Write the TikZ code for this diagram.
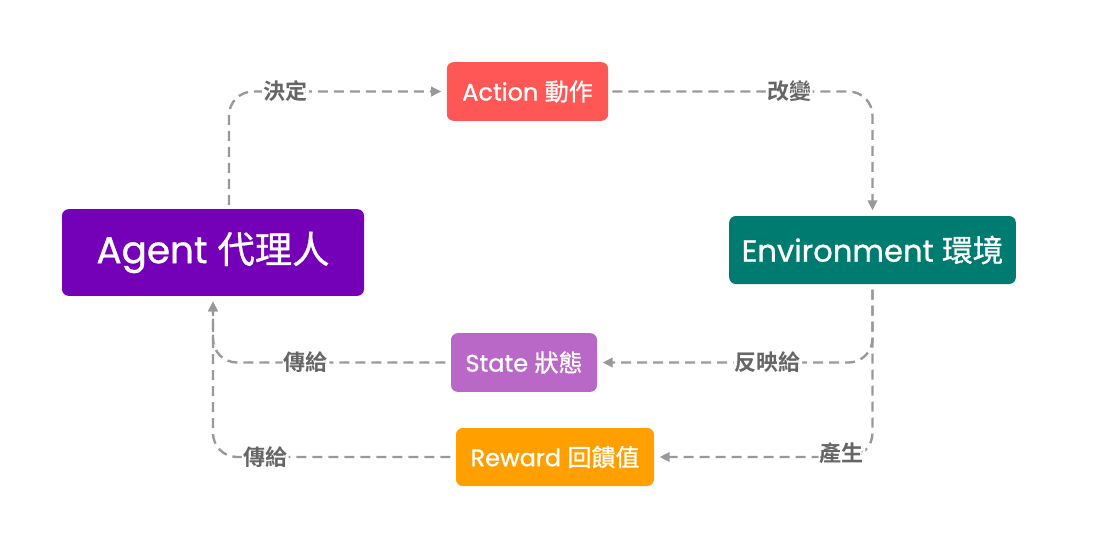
\documentclass[tikz,border=0pt]{standalone}
\usepackage{fontspec}
\setmainfont{Poppins}[RawFeature={embolden=0.9}]
\newfontfamily\cjk{Noto Sans CJK TC}[RawFeature={embolden=0.9}]
\newfontfamily\cjkb{Noto Sans CJK TC Bold}
\usetikzlibrary{arrows.meta}
\definecolor{actcol}{HTML}{FF5656}
\definecolor{agtcol}{HTML}{7400B8}
\definecolor{envcol}{HTML}{007B70}
\definecolor{stacol}{HTML}{BA68C8}
\definecolor{rewcol}{HTML}{FFA000}
\definecolor{linecol}{HTML}{999999}
\definecolor{lblcol}{HTML}{666666}
\begin{document}
\begin{tikzpicture}[x=0.75pt,y=-0.75pt,
  box/.style={rounded corners=5pt,text=white,inner sep=0pt,align=center},
  flow/.style={draw=linecol,line width=1.8pt,dash pattern=on 7.5pt off 4.5pt,
    rounded corners=18pt,-{Triangle[length=7.5pt,width=7pt]},shorten >=4pt},
  lbl/.style={fill=white,text=lblcol,inner sep=1pt,font=\cjkb\fontsize{16.5}{18}\selectfont}]
\useasboundingbox (0,0) rectangle (1097,547);

\node[box,fill=agtcol,minimum width=226.5pt,minimum height=65pt,
  font=\fontsize{28}{30}\selectfont] (agent) at (213,252.5) {Agent {\cjk 代理人}};
\node[box,fill=actcol,minimum width=121pt,minimum height=44pt,
  font=\fontsize{18}{20}\selectfont] (action) at (527.5,91.5) {Action {\cjk 動作}};
\node[box,fill=envcol,minimum width=215pt,minimum height=51pt,
  font=\fontsize{23}{25}\selectfont] (env) at (872.5,250) {Environment {\cjk 環境}};
\node[box,fill=stacol,minimum width=109.5pt,minimum height=44pt,
  font=\fontsize{18}{20}\selectfont] (state) at (524,362.5) {State {\cjk 狀態}};
\node[box,fill=rewcol,minimum width=148.5pt,minimum height=43.5pt,
  font=\fontsize{18}{20}\selectfont] (reward) at (555,457) {Reward {\cjk 回饋值}};

\draw[flow] ([xshift=12pt,yshift=3pt]agent.north) |- (action.west) node[lbl,pos=0.63] {決定};
\draw[flow] ([xshift=3pt]action.east) -| (env.north) node[lbl,pos=0.34] {改變};
\draw[flow] ([yshift=-4pt]env.south) |- (state.east) node[lbl,pos=0.69] {反映給};
\draw[flow] ([yshift=-4pt]env.south) |- (reward.east) node[lbl,pos=0.57,yshift=3pt] {產生};
\draw[flow] ([xshift=-4pt]state.west) -| (agent.south) node[lbl,pos=0.3] {傳給};
\draw[flow] ([xshift=-4pt]reward.west) -| (agent.south) node[lbl,pos=0.39] {傳給};

\end{tikzpicture}
\end{document}
